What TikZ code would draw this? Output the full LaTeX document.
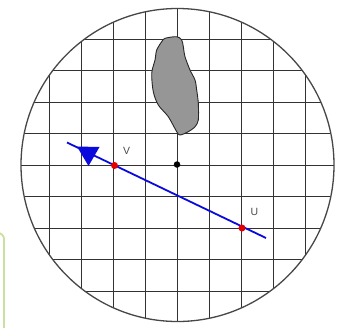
\documentclass[tikz,border=0pt]{standalone}
\usepackage{fontspec}
\setsansfont{Liberation Sans}
\usetikzlibrary{calc}
\definecolor{gridc}{RGB}{50,50,50}
\definecolor{blobc}{RGB}{150,150,150}
\definecolor{linec}{RGB}{10,10,220}
\definecolor{boxg}{RGB}{200,225,160}
\tikzset{
  gridline/.style={draw=gridc, line width=0.9pt},
  rim/.style={draw=gridc!90, line width=1.3pt},
  reddot/.style={circle, fill=red!90!black, inner sep=0pt, minimum size=7pt},
  blackdot/.style={circle, fill=black, inner sep=0pt, minimum size=6.5pt},
  lbl/.style={font=\sffamily\fontsize{10.5}{12}\selectfont, text=black!70},
}
\begin{document}
\begin{tikzpicture}[x=1pt,y=-1pt]
\useasboundingbox (0,0) rectangle (342,327);
\fill[white] (0,0) rectangle (342,327);
% green box edge at left
\draw[boxg, line width=1.8pt, rounded corners=6pt] (-10,233) -- (4,233) -- (4,335);
\coordinate (C) at (177.5,165);
\begin{scope}
  \clip (C) circle (156.5);
  \foreach \k in {-5,...,5} {
    \draw[gridline] (177.5+32*\k,0) -- (177.5+32*\k,330);
    \draw[gridline] (0,165+31.5*\k) -- (342,165+31.5*\k);
  }
\end{scope}
% blob
\filldraw[fill=blobc, draw=black!85, line width=0.9pt] plot[smooth cycle, tension=0.5] coordinates {
 (161.7,41.7) (165,38.3) (176.7,36.7) (181.7,40) (183.3,46.7) (185,56.7) (190,70) (195,80)
 (196.7,90) (198.3,103.3) (198.3,120) (195,126.7) (188.3,131.7) (180,135) (176.7,131.7)
 (168.3,116.7) (158.3,105) (153.3,91.7) (151.7,73.3) (155,60) (156.7,50)};
\draw[rim] (C) circle (156.5);
% line
\coordinate (A) at (67,142.5);
\coordinate (B) at (266,238);
\draw[linec, line width=1.8pt] (A) -- (B);
\fill[linec] (77,146.5) -- (99.5,147) -- (88.5,166) -- cycle;
\node[blackdot] (O) at (177,164.5) {};
\node[reddot] (V) at (114.5,165.5) {};
\node[reddot] (U) at (242,228) {};
\node[lbl] (Vl) at (126.5,151) {V};
\node[lbl] (Ul) at (254.5,212) {U};
\end{tikzpicture}
\end{document}
